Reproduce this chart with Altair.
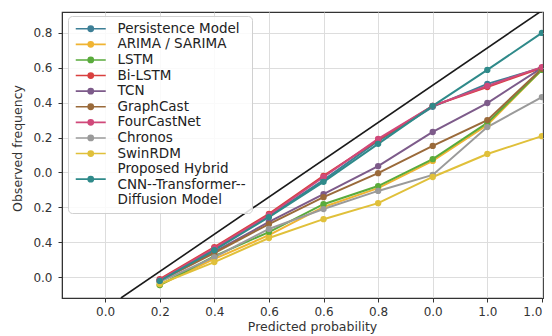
import altair as alt
import pandas as pd

# ---------------- data ----------------
series_names = [
    "Persistence Model",
    "ARIMA / SARIMA",
    "LSTM",
    "Bi-LSTM",
    "TCN",
    "GraphCast",
    "FourCastNet",
    "Chronos",
    "SwinRDM",
    "Proposed Hybrid\nCNN--Transformer--\nDiffusion Model",
]
series_colors = [
    "#3d7f96", "#f0b432", "#5aab3c", "#d9403f", "#7d5b8a",
    "#9a6a3a", "#d0497a", "#9a9a9a", "#e0c03a", "#2f8a8a",
]

# x positions (tick slots 1..8 of the odd axis)
x_positions = [0.1, 0.2, 0.3, 0.4, 0.5, 0.6, 0.7, 0.8]

persistence = [-0.011, 0.080, 0.175, 0.278, 0.390, 0.488, 0.554, 0.600]
arima       = [-0.023, 0.052, 0.120, 0.201, 0.255, 0.333, 0.436, 0.594]
lstm        = [-0.023, 0.060, 0.129, 0.209, 0.261, 0.338, 0.442, 0.594]
bilstm      = [-0.006, 0.086, 0.181, 0.290, 0.393, 0.491, 0.545, 0.600]
tcn         = [-0.009, 0.072, 0.158, 0.238, 0.318, 0.416, 0.499, 0.600]
graphcast   = [-0.011, 0.069, 0.152, 0.229, 0.298, 0.376, 0.450, 0.597]
fourcastnet = [-0.009, 0.083, 0.178, 0.287, 0.396, 0.491, 0.548, 0.602]
chronos     = [-0.014, 0.057, 0.138, 0.195, 0.247, 0.293, 0.430, 0.516]
swinrdm     = [-0.020, 0.043, 0.112, 0.166, 0.212, 0.287, 0.353, 0.404]
proposed    = [-0.011, 0.077, 0.172, 0.273, 0.382, 0.491, 0.594, 0.700]

series_values = [persistence, arima, lstm, bilstm, tcn,
                 graphcast, fourcastnet, chronos, swinrdm, proposed]

# perfect-calibration reference line
diag_x = [0.029, 0.802]
diag_y = [-0.060, 0.766]

x_tick_values = [0.0, 0.1, 0.2, 0.3, 0.4, 0.5, 0.6, 0.7, 0.8]
x_tick_labels = ["0.0", "0.2", "0.4", "0.6", "0.6", "0.8", "0.0", "1.0", "1.0"]
y_tick_values = [0.0, 0.1, 0.2, 0.3, 0.4, 0.5, 0.6, 0.7]
y_tick_labels = ["0.0", "0.4", "0.2", "0.0", "0.2", "0.4", "0.6", "0.8"]

# ---------------- tables ----------------
rows = []
for order, (name, vals) in enumerate(zip(series_names, series_values)):
    for x, y in zip(x_positions, vals):
        rows.append({"series": name, "x": x, "y": y, "order": order})
df = pd.DataFrame(rows)
diag_df = pd.DataFrame({"x": diag_x, "y": diag_y})


def label_expr(labels):
    arr = ",".join("'%s'" % s for s in labels)
    return "[%s][round(datum.value*10)]" % arr


FONT = "DejaVu Sans"

x_scale = alt.Scale(domain=[-0.079, 0.802], nice=False, zero=False)
y_scale = alt.Scale(domain=[-0.060, 0.760], nice=False, zero=False)

x_axis = alt.Axis(
    values=x_tick_values, labelExpr=label_expr(x_tick_labels),
    labelAlign={"condition": {"test": "datum.value > 0.75", "value": "right"},
                "value": "center"},
    title="Predicted probability", titleX=250, titleY=22,
    titleBaseline="top", titleAnchor="middle",
)
y_axis = alt.Axis(
    values=y_tick_values, labelExpr=label_expr(y_tick_labels),
    title="Observed frequency", titleX=-45, titleY=136,
    titleBaseline="middle", titleAngle=270,
)


def legend_glyph(dy):
    # line segment with a filled-looking dot (concentric rings)
    p = "M-1,%sL5,%s" % (dy, dy)
    for r in (0.52, 0.32, 0.12):
        p += "M%s,%sA%s,%s,0,1,1,%s,%sA%s,%s,0,1,1,%s,%s" % (
            2 + r, dy, r, r, 2 - r, dy, r, r, 2 + r, dy)
    return p


legend_shapes = [legend_glyph(0)] * 9 + [legend_glyph(2)]

diag = alt.Chart(diag_df).mark_line(color="#1a1a1a", strokeWidth=1.6, clip=True).encode(
    x=alt.X("x:Q", scale=x_scale, axis=x_axis),
    y=alt.Y("y:Q", scale=y_scale, axis=y_axis),
)

lines = alt.Chart(df).mark_line(
    strokeWidth=2,
    clip=True,
    point=alt.OverlayMarkDef(filled=True, size=40, opacity=1),
).encode(
    x=alt.X("x:Q", scale=x_scale, axis=x_axis),
    y=alt.Y("y:Q", scale=y_scale, axis=y_axis),
    color=alt.Color("series:N",
                    scale=alt.Scale(domain=series_names, range=series_colors),
                    sort=series_names, legend=None),
    order=alt.Order("order:Q"),
)

legend_kw = dict(
    title=None,
    orient="none",
    legendX=6,
    legendY=4,
    symbolSize=100,
    symbolStrokeWidth=1.6,
    symbolOpacity=1,
    labelOffset=30,
    labelFont=FONT,
    labelFontSize=13.5,
    labelColor="#222222",
    labelLimit=300,
    labelExpr="split(datum.label, '\\n')",
    rowPadding=0.6,
    padding=6,
    fillColor="rgba(255,255,255,0.85)",
    strokeColor="#d0d0d0",
    cornerRadius=4,
)

# legend-only layer (draws no marks)
legend_layer = alt.Chart(df).transform_filter("false").mark_point(
    filled=True, size=100, strokeWidth=1.6
).encode(
    x=alt.X("x:Q", scale=x_scale, axis=x_axis),
    y=alt.Y("y:Q", scale=y_scale, axis=y_axis),
    color=alt.Color("series:N",
                    scale=alt.Scale(domain=series_names, range=series_colors),
                    sort=series_names, legend=alt.Legend(**legend_kw)),
    stroke=alt.Stroke("series:N",
                      scale=alt.Scale(domain=series_names, range=series_colors),
                      sort=series_names, legend=alt.Legend(**legend_kw)),
    shape=alt.Shape("series:N",
                    scale=alt.Scale(domain=series_names, range=legend_shapes),
                    sort=series_names, legend=alt.Legend(**legend_kw)),
)

chart = alt.layer(diag, lines, legend_layer).resolve_scale(
    color="independent", stroke="independent", shape="independent"
).resolve_legend(
    color="independent", stroke="independent", shape="independent"
).properties(
    width=481,
    height=286,
    autosize=alt.AutoSizeParams(type="none"),
    padding={"left": 54, "top": 4, "right": 1, "bottom": 36},
    background="white",
).configure_view(
    stroke="#333333", strokeWidth=1.2,
).configure_axis(
    labelFont=FONT, titleFont=FONT,
    labelFontSize=12, titleFontSize=12.5,
    labelColor="#333333", titleColor="#333333",
    titleFontWeight="normal",
    domainColor="#333333", tickColor="#333333",
    tickSize=4, labelPadding=4,
    gridColor="#dddddd", gridWidth=1,
).configure_axisY(
    labelPadding=6,
).configure_legend(
    labelFont=FONT,
)

chart.save("out.html", embed_options={"renderer": "svg", "actions": False})
